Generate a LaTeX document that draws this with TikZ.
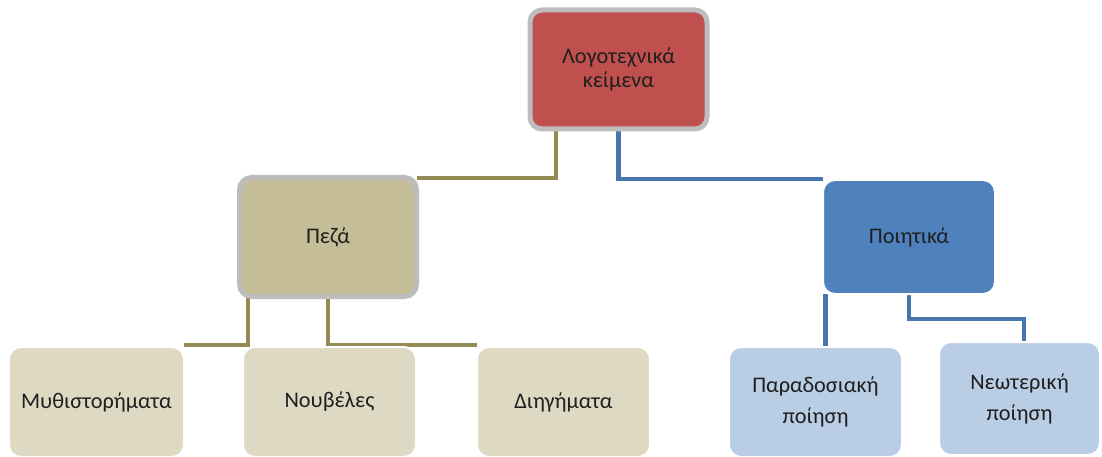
\documentclass[tikz,border=0pt]{standalone}
\usepackage{fontspec}
\setmainfont{Carlito}
\usetikzlibrary{backgrounds}
\definecolor{redbox}{HTML}{C0504D}
\definecolor{tanbox}{HTML}{C4BD97}
\definecolor{tanlight}{HTML}{DDD9C3}
\definecolor{bluebox}{HTML}{4F81BD}
\definecolor{bluelight}{HTML}{B9CDE5}
\definecolor{grayrim}{HTML}{BDBDBD}
\definecolor{oliveline}{HTML}{948A54}
\definecolor{blueline}{HTML}{4775AD}
\definecolor{txt}{HTML}{1F1F1F}
\tikzset{
  box/.style={rectangle, rounded corners=12pt, outer sep=0pt, inner sep=0pt,
    align=center, text=txt, font=\fontsize{22.3}{24.5}\selectfont},
  rimbox/.style={box, draw=grayrim, line width=5pt},
  plainbox/.style={box, draw=white, line width=2pt},
  widebox/.style={plainbox, font=\fontsize{22.3}{31}\selectfont},
  oline/.style={draw=oliveline, line width=4.5pt},
  bline/.style={draw=blueline, line width=4.5pt},
}
\begin{document}
\begin{tikzpicture}[x=1pt,y=-1pt]
\useasboundingbox (0,0) rectangle (1102,457);
% nodes
\node[rimbox, fill=redbox, minimum width=177pt, minimum height=119pt] (top) at (618.5,69.5) {Λογοτεχνικά\\κείμενα};
\node[rimbox, fill=tanbox, minimum width=177pt, minimum height=119pt] (peza) at (328,237) {Πεζά};
\node[plainbox, fill=bluebox, minimum width=172pt, minimum height=114pt] (poi) at (909,237) {Ποιητικά};
\node[plainbox, fill=tanlight, minimum width=175pt, minimum height=110pt] (myth) at (96.5,402) {Μυθιστορήματα};
\node[plainbox, fill=tanlight, minimum width=173pt, minimum height=110pt] (nouv) at (329.5,402) {Νουβέλες};
\node[plainbox, fill=tanlight, minimum width=173pt, minimum height=110pt] (dieg) at (563.5,402) {Διηγήματα};
\node[widebox, fill=bluelight, minimum width=173pt, minimum height=110pt] (parad) at (815.5,402) {Παραδοσιακή\\ποίηση};
\node[widebox, fill=bluelight, minimum width=161pt, minimum height=113pt] (neo) at (1019.5,398.5) {Νεωτερική\\ποίηση};
\coordinate (elb) at (1024,319);
% connectors
\begin{pgfonlayer}{background}
\draw[oline] ([xshift=-62.5pt]top.south) |- ([yshift=-0.5pt]peza.north east);
\draw[bline] (top.south) |- ([yshift=1pt]poi.north west);
\draw[oline] ([xshift=-80pt]peza.south) |- ([yshift=2pt]myth.north east);
\draw[oline] (peza.south) |- ([yshift=2pt]dieg.north west);
\draw[bline] ([xshift=2.5pt]poi.south west) -- ([xshift=2.5pt]poi.south west |- parad.north);
\draw[bline] (poi.south) |- (elb) -- (elb |- neo.north);
\end{pgfonlayer}
\end{tikzpicture}
\end{document}
